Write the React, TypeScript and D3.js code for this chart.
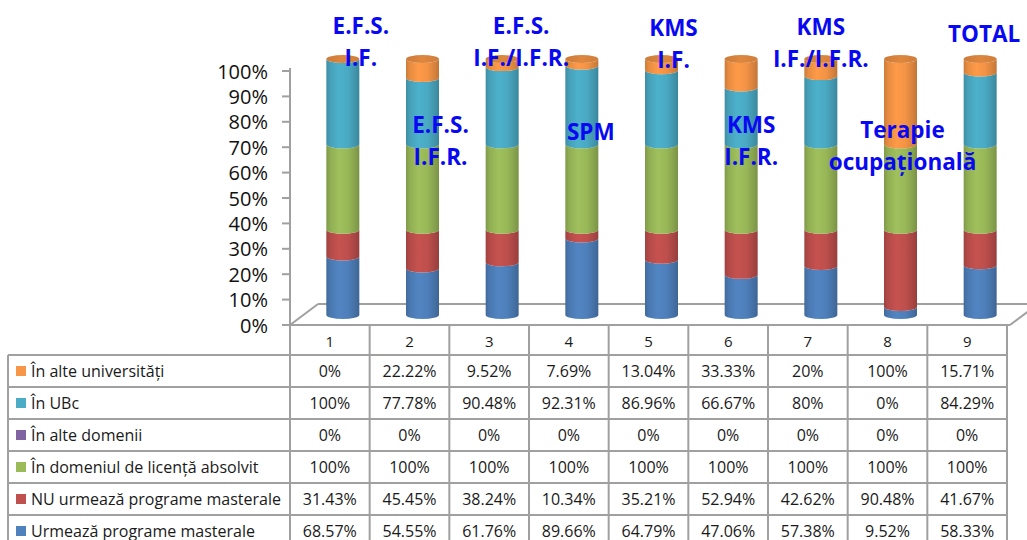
import React from 'react';
import * as d3 from 'd3';

// ---------- DATA ----------
const categories = ['1', '2', '3', '4', '5', '6', '7', '8', '9'];

const seriesNames = [
  'În alte universități',
  'În UBc',
  'În alte domenii',
  'În domeniul de licență absolvit',
  'NU urmează programe masterale',
  'Urmează programe masterale',
];

const alteUniversitati = [0, 22.22, 9.52, 7.69, 13.04, 33.33, 20, 100, 15.71];
const inUBc = [100, 77.78, 90.48, 92.31, 86.96, 66.67, 80, 0, 84.29];
const alteDomenii = [0, 0, 0, 0, 0, 0, 0, 0, 0];
const domeniuLicenta = [100, 100, 100, 100, 100, 100, 100, 100, 100];
const nuUrmeaza = [31.43, 45.45, 38.24, 10.34, 35.21, 52.94, 42.62, 90.48, 41.67];
const urmeaza = [68.57, 54.55, 61.76, 89.66, 64.79, 47.06, 57.38, 9.52, 58.33];

const yTicks = [0, 10, 20, 30, 40, 50, 60, 70, 80, 90, 100];

const topLabels: string[][] = [
  ['E.F.S.', 'I.F.'],
  ['E.F.S.', 'I.F.R.'],
  ['E.F.S.', 'I.F./I.F.R.'],
  ['SPM'],
  ['KMS', 'I.F.'],
  ['KMS', 'I.F.R.'],
  ['KMS', 'I.F./I.F.R.'],
  ['Terapie', 'ocupațională'],
  ['TOTAL'],
];

// ---------- STYLE / LAYOUT ----------
const seriesColors = ['#F79646', '#4BACC6', '#8064A2', '#9BBB59', '#C0504D', '#4F81BD'];
// table rows order (top->bottom) = seriesNames order; stack order bottom->top is reversed
const seriesValues = [alteUniversitati, inUBc, alteDomenii, domeniuLicenta, nuUrmeaza, urmeaza];

// label layout: [dx from cylinder center, y of first line]
const labelLayout: [number, number][] = [
  [18, 25], [18, 124], [19, 25], [9, 131], [12, 27], [10, 124], [0, 26], [2, 129], [4, 33],
];

const W = 1027;
const H = 540;
const tableLeft = 8;
const tableX0 = 290;
const tableX1 = 1007;
const headerTop = 325;
const headerBottom = 355;
const rowH = 32;
const depthDx = 13;
const cylR = 16.5;
const ellRy = 4;
const gridColor = '#a0a0a0';
const font = "'Open Sans', 'Noto Sans', sans-serif";

export default function App() {
  const x = d3.scaleBand<string>().domain(categories).range([tableX0, tableX1]).padding(0);
  const yAxis = d3.scaleLinear().domain([0, 100]).range([325, 71]);
  const yCyl = d3.scaleLinear().domain([0, 1]).range([315, 59]);

  const stackOrder = [5, 4, 3, 2, 1, 0]; // bottom -> top

  const gradId = (i: number) => `cylGrad${i}`;
  const capGradId = 'capGrad';

  const shade = (c: string, k: number) => {
    const col = d3.color(c)!;
    return (k >= 0 ? col.brighter(k) : col.darker(-k)).formatHex();
  };

  const cylinders = categories.map((cat, ci) => {
    const cx = (x(cat) as number) + x.bandwidth() / 2 + depthDx;
    const total = d3.sum(seriesValues, (s) => s[ci]);
    let cum = 0;
    const segs: JSX.Element[] = [];
    stackOrder.forEach((si) => {
      const v = seriesValues[si][ci] / total;
      const c0 = cum;
      const c1 = cum + v;
      cum = c1;
      if (v <= 0) return;
      const y0 = yCyl(c0);
      const y1 = yCyl(c1);
      const d = [
        `M${cx - cylR},${y1}`,
        `L${cx - cylR},${y0}`,
        `A${cylR},${ellRy} 0 0 0 ${cx + cylR},${y0}`,
        `L${cx + cylR},${y1}`,
        `A${cylR},${ellRy} 0 0 1 ${cx - cylR},${y1}`,
        'Z',
      ].join(' ');
      segs.push(<path key={si} d={d} fill={`url(#${gradId(si)})`} />);
    });
    const yTop = yCyl(1);
    segs.push(
      <ellipse key="cap" cx={cx} cy={yTop} rx={cylR} ry={ellRy} fill={`url(#${capGradId})`} />
    );
    return <g key={cat}>{segs}</g>;
  });

  const labels = categories.map((cat, ci) => {
    const cx = (x(cat) as number) + x.bandwidth() / 2 + depthDx;
    const [dx, y0] = labelLayout[ci];
    return (
      <text
        key={cat}
        x={cx + dx}
        textAnchor="middle"
        fontFamily={font}
        fontWeight={700}
        fontSize={22.5}
        fill="#0808f2"
      >
        {topLabels[ci].map((line, li) => (
          <tspan key={li} x={cx + dx} y={y0 + li * 32} dominantBaseline="central">
            {line}
          </tspan>
        ))}
      </text>
    );
  });

  // table
  const rowsY = seriesNames.map((_, i) => headerBottom + i * rowH);
  const tableBottom = headerBottom + seriesNames.length * rowH;

  const fmt = (v: number) => `${+v.toFixed(2)}%`;

  return (
    <svg
      width={W}
      height={H}
      style={{ position: 'absolute', left: 0, top: 0, display: 'block', background: '#fff' }}
    >
      <defs>
        {seriesColors.map((c, i) => (
          <linearGradient key={i} id={gradId(i)} x1="0" x2="1" y1="0" y2="0">
            <stop offset="0" stopColor={shade(c, -0.55)} />
            <stop offset="0.12" stopColor={shade(c, -0.2)} />
            <stop offset="0.38" stopColor={shade(c, 0.08)} />
            <stop offset="0.65" stopColor={shade(c, -0.05)} />
            <stop offset="0.9" stopColor={shade(c, -0.45)} />
            <stop offset="1" stopColor={shade(c, -0.7)} />
          </linearGradient>
        ))}
        <linearGradient id={capGradId} x1="0" x2="1" y1="0" y2="0">
          <stop offset="0" stopColor={shade(seriesColors[0], -0.55)} />
          <stop offset="0.5" stopColor={shade(seriesColors[0], -0.3)} />
          <stop offset="1" stopColor={shade(seriesColors[0], -0.5)} />
        </linearGradient>
      </defs>

      {/* floor */}
      <g stroke={gridColor} strokeWidth={2} fill="none">
        <line x1={tableX0} y1={325} x2={tableX0 + 28} y2={304} />
        <line x1={tableX0 + 28} y1={304} x2={W} y2={304} />
        <line x1={1010} y1={325} x2={1038} y2={304} />
        <line x1={tableX0} y1={325} x2={1010} y2={325} />
      </g>

      {/* y axis */}
      <g>
        <line x1={tableX0} y1={68} x2={tableX0} y2={325} stroke={gridColor} strokeWidth={2} />
        {yTicks.map((t) => (
          <g key={t}>
            <line x1={tableX0 - 8} x2={tableX0} y1={yAxis(t)} y2={yAxis(t)} stroke={gridColor} strokeWidth={2} />
            <text
              x={268}
              y={yAxis(t)}
              textAnchor="end"
              dominantBaseline="central"
              fontFamily={font}
              fontSize={20}
              fill="#111"
            >
              {t}%
            </text>
          </g>
        ))}
      </g>

      {cylinders}
      {labels}

      {/* data table */}
      <g fontFamily={font} fill="#1a1a1a">
        {/* header */}
        {categories.map((cat) => (
          <text
            key={cat}
            x={(x(cat) as number) + x.bandwidth() / 2}
            y={(headerTop + headerBottom) / 2 + 1}
            textAnchor="middle"
            dominantBaseline="central"
            fontSize={15}
          >
            {cat}
          </text>
        ))}
        {seriesNames.map((name, ri) => {
          const ry = rowsY[ri];
          const cy = ry + rowH / 2;
          return (
            <g key={name}>
              <rect x={16} y={cy - 5} width={10} height={10} fill={seriesColors[ri]} />
              <text x={31} y={cy} dominantBaseline="central" fontSize={16}>
                {name}
              </text>
              {categories.map((cat, ci) => (
                <text
                  key={cat}
                  x={(x(cat) as number) + x.bandwidth() / 2}
                  y={cy}
                  textAnchor="middle"
                  dominantBaseline="central"
                  fontSize={16}
                >
                  {fmt(seriesValues[ri][ci])}
                </text>
              ))}
            </g>
          );
        })}
        {/* grid lines */}
        <g stroke={gridColor} strokeWidth={2} fill="none">
          <line x1={tableX0} y1={headerTop} x2={tableX1} y2={headerTop} />
          {rowsY.map((ry) => (
            <line key={ry} x1={tableLeft} y1={ry} x2={tableX1} y2={ry} />
          ))}
          <line x1={tableLeft} y1={tableBottom} x2={tableX1} y2={tableBottom} />
          <line x1={tableLeft} y1={headerBottom} x2={tableLeft} y2={tableBottom} />
          {categories.map((cat) => (
            <line
              key={cat}
              x1={x(cat) as number}
              y1={headerTop}
              x2={x(cat) as number}
              y2={tableBottom}
            />
          ))}
          <line x1={tableX1} y1={headerTop} x2={tableX1} y2={tableBottom} />
        </g>
      </g>
    </svg>
  );
}
